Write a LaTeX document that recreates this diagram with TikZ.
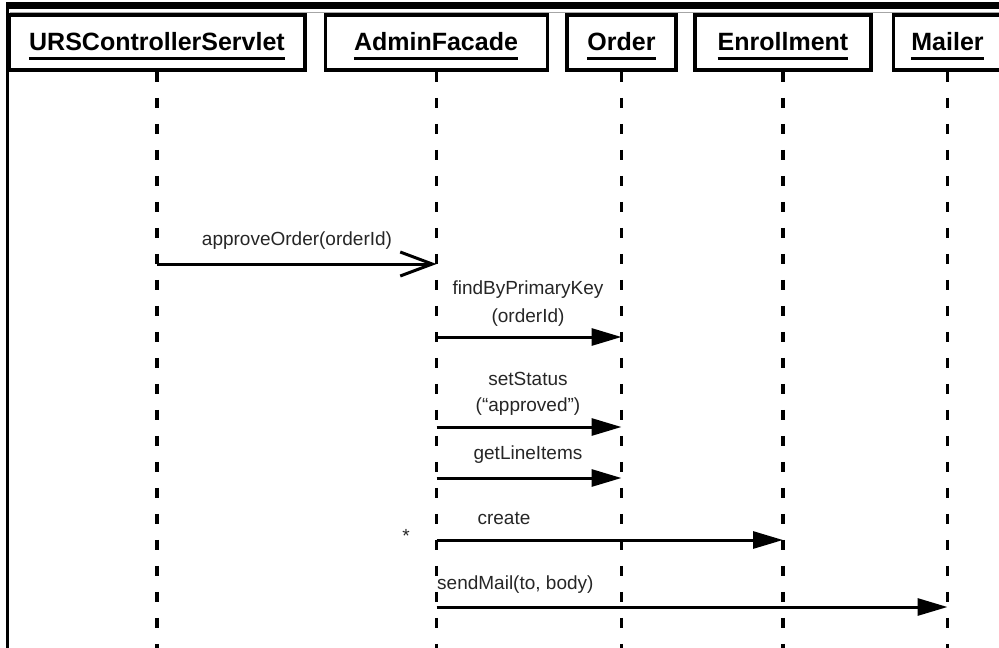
\documentclass[tikz,border=0pt]{standalone}
\usepackage{fontspec}
\setmainfont{Liberation Sans}
\usetikzlibrary{arrows.meta}
\begin{document}
\begin{tikzpicture}[x=1pt,y=-1pt,
  head/.style={draw, line width=3.5pt, minimum height=55pt, inner sep=0pt, fill=white},
  headtext/.style={anchor=base, inner sep=0pt, font=\fontsize{25}{28}\selectfont\bfseries},
  uline/.style={line width=3pt},
  lifeline/.style={line width=3.5pt, dash pattern=on 10pt off 16pt},
  msg/.style={line width=3pt, -{Triangle[length=30pt,width=17pt]}},
  call/.style={line width=3pt, -{Straight Barb[length=32pt,width=24pt]}},
  lbl/.style={inner sep=0pt, text=black!85, font=\fontsize{19}{22}\selectfont},
]
\useasboundingbox (0,0) rectangle (999,648);

% outer frame: top band and left rule
\fill (6,2) rectangle (999,9);
\draw[line width=2.5pt] (7.5,2) -- (7.5,648);
\draw[black!35, line width=1pt] (10,12.5) -- (999,12.5);

% object heads
\node[head, minimum width=296pt] (urs)   at (157,42.5) {};
\node[head, minimum width=222pt] (admin) at (436.5,42.5) {};
\node[head, minimum width=109pt] (order) at (621.5,42.5) {};
\node[head, minimum width=176pt] (enrol) at (783,42.5) {};
\node[head, minimum width=108pt] (mail)  at (947.5,42.5) {};

\node[headtext] (urs-t)   at (157,50)   {URSControllerServlet};
\node[headtext] (admin-t) at (436,50)   {AdminFacade};
\node[headtext] (order-t) at (621.5,50) {Order};
\node[headtext] (enrol-t) at (783,50)   {Enrollment};
\node[headtext] (mail-t)  at (947.5,50) {Mailer};

\foreach \n in {urs-t,admin-t,order-t,enrol-t,mail-t}
  \draw[uline] ([yshift=-8.5pt]\n.base west) -- ([yshift=-8.5pt]\n.base east);

% lifelines
\coordinate (bot) at (0,648);
\foreach \n in {urs,admin,order,enrol,mail}
  \draw[lifeline] (\n.south) -- (\n |- bot);

% messages
\coordinate (y1) at (0,264);
\coordinate (y2) at (0,337);
\coordinate (y3) at (0,427);
\coordinate (y4) at (0,478);
\coordinate (y5) at (0,540);
\coordinate (y6) at (0,607);

\draw[call] (urs |- y1) -- (admin |- y1);
\draw[msg] (admin |- y2) -- (order |- y2);
\draw[msg] (admin |- y3) -- (order |- y3);
\draw[msg] (admin |- y4) -- (order |- y4);
\draw[msg] (admin |- y5) -- (enrol |- y5);
\draw[msg] (admin |- y6) -- (mail |- y6);

% message labels
\node[lbl] (l1)  at (297,241) {approveOrder(orderId)};
\node[lbl] (l2a) at (528,290) {findByPrimaryKey};
\node[lbl] (l2b) at (528,318) {(orderId)};
\node[lbl] (l3a) at (528,379) {setStatus};
\node[lbl] (l3b) at (528,407) {(“approved")};
\node[lbl] (l4)  at (528,455) {getLineItems};
\node[lbl] (l5)  at (504,518) {create};
\node[lbl] (star) at (406,536) {*};
\node[lbl, anchor=west] (l6) at (437,585) {sendMail(to, body)};
\end{tikzpicture}
\end{document}
